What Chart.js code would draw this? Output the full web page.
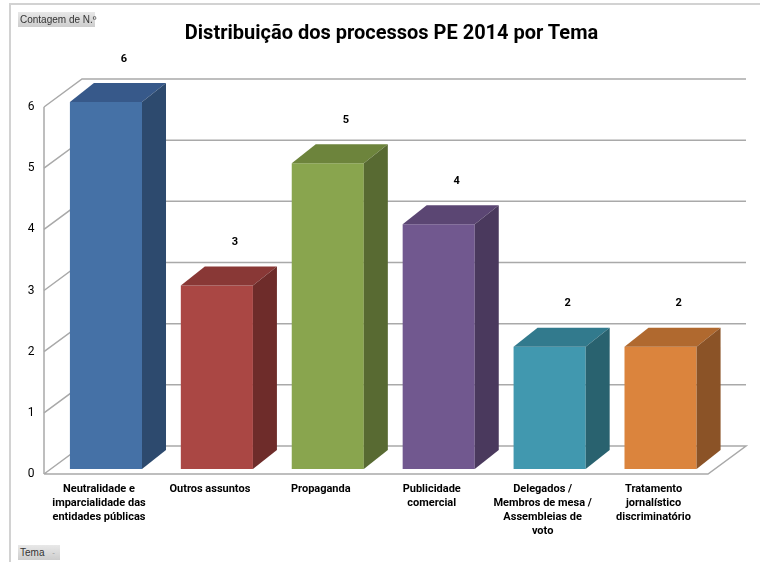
<!DOCTYPE html>
<html><head><meta charset="utf-8">
<script src="https://cdn.jsdelivr.net/npm/chart.js@4/dist/chart.umd.min.js"></script>
<style>
html,body{margin:0;padding:0;background:#fff;width:760px;height:562px;overflow:hidden;}
#wrap{position:relative;width:760px;height:562px;}
#c{position:absolute;left:0;top:0;}
#frameTop{position:absolute;left:9px;top:3px;width:751px;height:2px;background:#d2d2d2;}
#frameLeft{position:absolute;left:9px;top:3px;width:2px;height:559px;background:#d2d2d2;}
#title{position:absolute;left:0;top:19px;width:783px;text-align:center;font:bold 20px Roboto, sans-serif;color:#000;line-height:26px;}
.btn{position:absolute;background:linear-gradient(#e8e8e8,#cdcdcd);font:10px "Liberation Sans",sans-serif;color:#333;line-height:15px;height:15px;padding-left:2px;box-sizing:border-box;white-space:nowrap;}
#b1{left:18px;top:12px;width:77px;}
#b2{left:18px;top:545px;width:42px;}
#b2 span{position:absolute;right:5px;top:0;color:#999;font-size:8px;}
</style></head>
<body><div id="wrap">
<canvas id="c" width="760" height="562"></canvas>
<div id="frameTop"></div><div id="frameLeft"></div>
<div id="title">Distribuição dos processos PE 2014 por Tema</div>
<div class="btn" id="b1">Contagem de N.º</div>
<div class="btn" id="b2">Tema<span>-</span></div>
</div>
<script>
// ---- data ----
const categories = [
  ["Neutralidade e","imparcialidade das","entidades públicas"],
  ["Outros assuntos"],
  ["Propaganda"],
  ["Publicidade","comercial"],
  ["Delegados /","Membros de mesa /","Assembleias de","voto"],
  ["Tratamento","jornalístico","discriminatório"]
];
const counts = [6, 3, 5, 4, 2, 2];
const yTickMax = 6;
const yTickStep = 1;

// ---- styles ----
const FONT = 'Roboto, sans-serif';
const frontColors = ['#4571a6','#aa4744','#89a54e','#71588f','#4198af','#db843d'];
const topColors   = ['#37598a','#893836','#6d843c','#5b4673','#327a8d','#b0692f'];
const sideColors  = ['#2d4a6e','#6e2c2a','#586a32','#4a395d','#29626f','#8b5327'];
const GRID = '#a9a9a9';
const DEPTH = {dx:38, dy:-28};     // whole floor depth
const FRONT = {dx:-6.5, dy:5};     // front plane relative to bar front face
const BAR = {dx:24, dy:-19};       // bar depth

const threeD = {
  id:'threeD',
  beforeDatasetsDraw(chart){
    const {ctx, chartArea:a, scales:{y}} = chart;
    const fx = a.left + FRONT.dx, fxr = a.right - 8;
    ctx.save();
    ctx.strokeStyle = GRID; ctx.lineWidth = 1.5;
    ctx.beginPath();
    ctx.moveTo(fx, y.getPixelForValue(yTickMax)+FRONT.dy);
    ctx.lineTo(fx, y.getPixelForValue(0)+FRONT.dy);
    ctx.stroke();
    for (let v=0; v<=yTickMax; v+=yTickStep){
      const fy = y.getPixelForValue(v)+FRONT.dy;
      ctx.beginPath();
      ctx.moveTo(fx, fy);
      ctx.lineTo(fx+DEPTH.dx, fy+DEPTH.dy);
      ctx.lineTo(fxr+DEPTH.dx, fy+DEPTH.dy);
      if (v===0){ ctx.lineTo(fxr, fy); ctx.lineTo(fx, fy); }
      ctx.stroke();
    }
    ctx.restore();
  },
  afterDatasetsDraw(chart){
    const {ctx, scales:{y}} = chart;
    const meta = chart.getDatasetMeta(0);
    ctx.save();
    meta.data.forEach((bar,i)=>{
      const x0 = bar.x - bar.width/2, x1 = bar.x + bar.width/2;
      const yt = bar.y, yb = bar.base;
      ctx.fillStyle = topColors[i];
      ctx.beginPath();
      ctx.moveTo(x0,yt); ctx.lineTo(x1,yt); ctx.lineTo(x1+BAR.dx,yt+BAR.dy); ctx.lineTo(x0+BAR.dx,yt+BAR.dy); ctx.closePath(); ctx.fill();
      ctx.fillStyle = sideColors[i];
      ctx.beginPath();
      ctx.moveTo(x1,yt); ctx.lineTo(x1+BAR.dx,yt+BAR.dy); ctx.lineTo(x1+BAR.dx,yb+BAR.dy); ctx.lineTo(x1,yb); ctx.closePath(); ctx.fill();
      ctx.fillStyle = '#000';
      ctx.font = 'bold 11px ' + FONT;
      ctx.textAlign = 'center'; ctx.textBaseline = 'middle';
      ctx.fillText(String(counts[i]), bar.x + 18, y.getPixelForValue(counts[i]) - 43);
    });
    ctx.restore();
  }
};

new Chart(document.getElementById('c'), {
  type:'bar',
  data:{ labels: categories, datasets:[{ data: counts, backgroundColor: frontColors, borderWidth:0, barPercentage:0.65, categoryPercentage:1 }]},
  options:{
    responsive:false, animation:false, devicePixelRatio:1,
    layout:{padding:{left:0,right:44,top:102,bottom:0}},
    plugins:{legend:{display:false}, tooltip:{enabled:false}, title:{display:false}},
    scales:{
      x:{ grid:{display:false,drawTicks:false}, border:{display:false},
          ticks:{autoSkip:false,maxRotation:0,minRotation:0,padding:13,labelOffset:-7,color:'#000',
                 font:{family:FONT,weight:'bold',size:11,lineHeight:1.27}},
          afterFit(s){ s.height = 93; } },
      y:{ min:0, max:yTickMax, grid:{display:false,drawTicks:false}, border:{display:false},
          ticks:{stepSize:yTickStep,padding:16,labelOffset:5,color:'#000',font:{family:FONT,size:12}},
          afterFit(s){ s.width = 50.5; } }
    }
  },
  plugins:[threeD]
});
</script>
</body></html>
